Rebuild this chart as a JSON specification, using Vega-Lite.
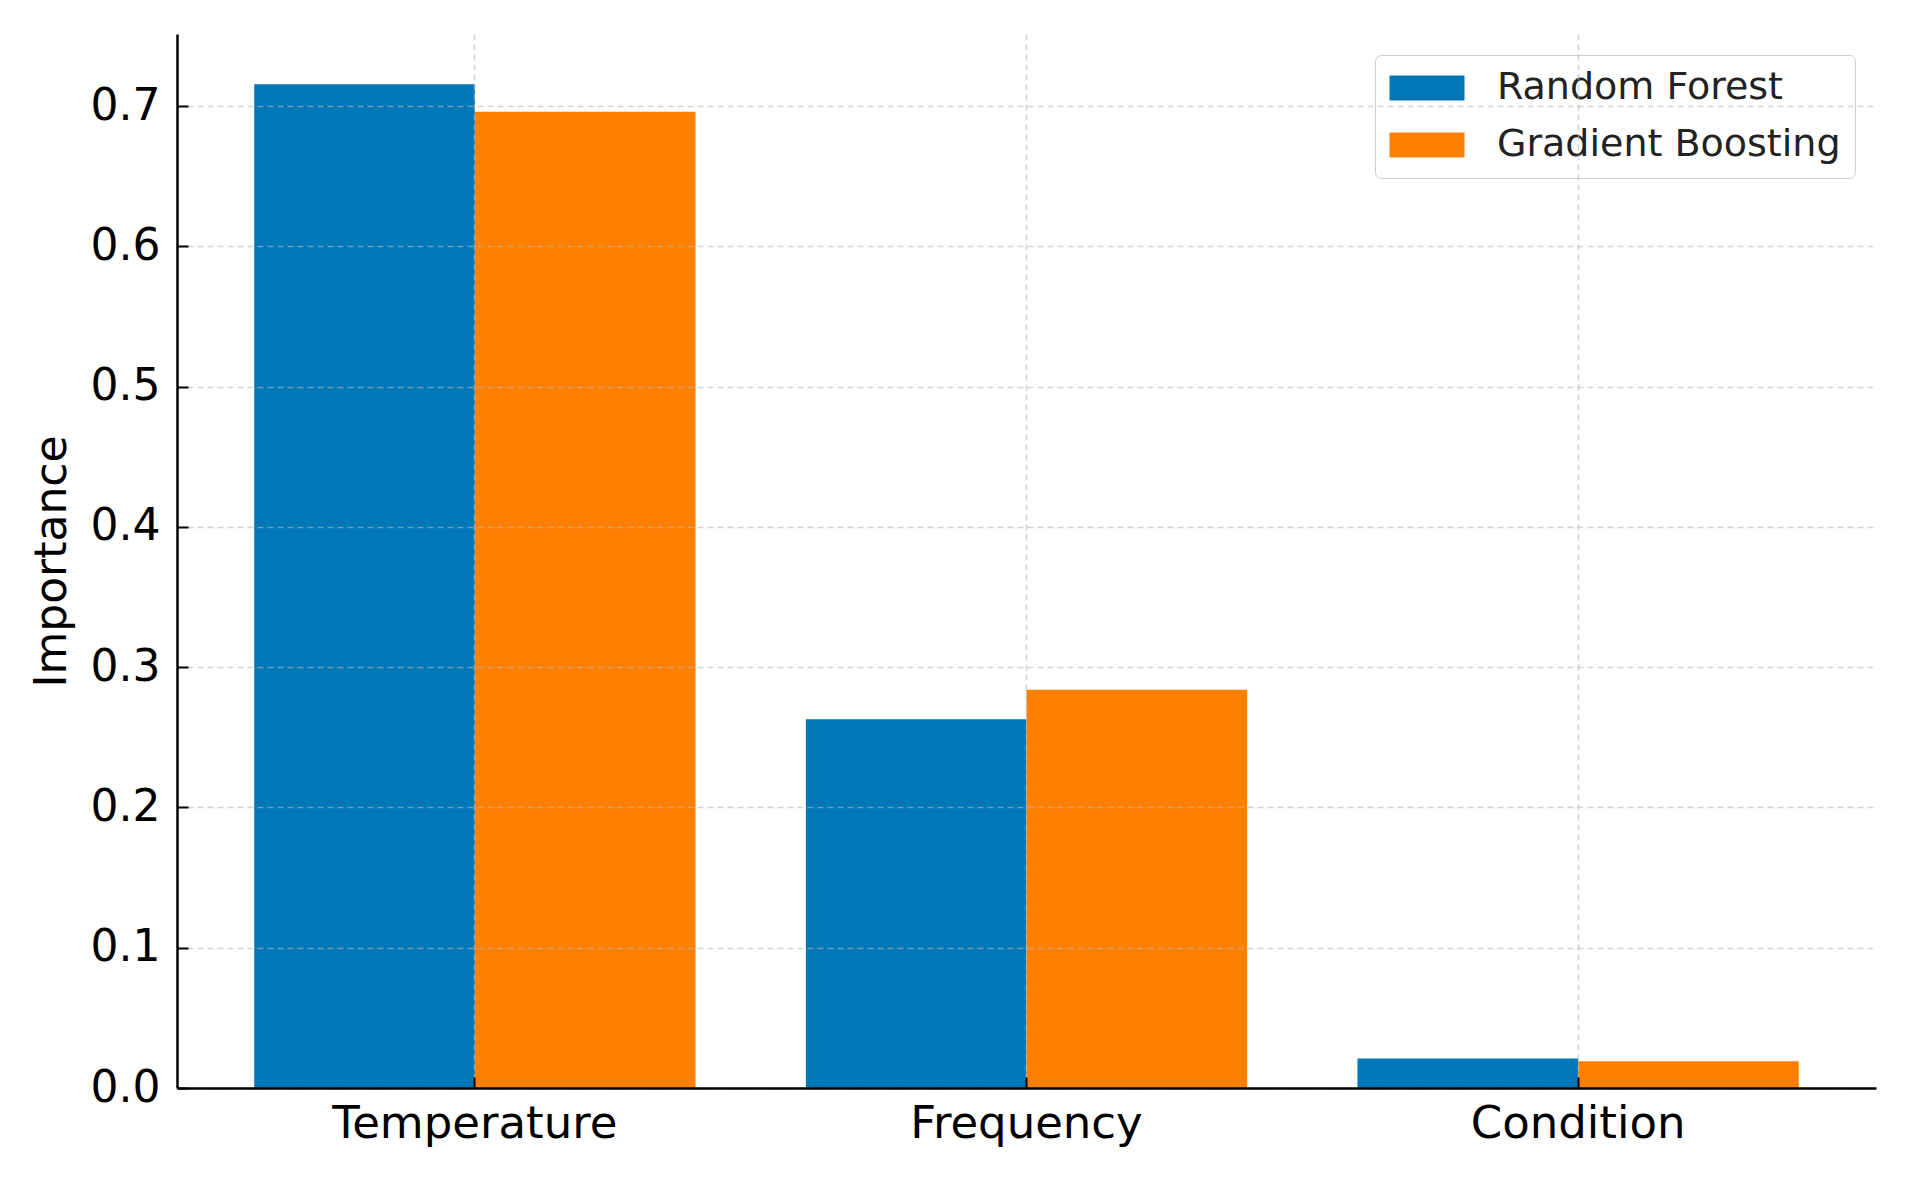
{
  "$schema": "https://vega.github.io/schema/vega-lite/v6.json",
  "width": 1699,
  "height": 1054,
  "autosize": {"type": "none"},
  "padding": {"left": 177, "top": 34, "right": 40, "bottom": 104},
  "background": "white",
  "data": {
    "values": [
      {"feature": "Temperature", "model": "Random Forest", "importance": 0.7157},
      {"feature": "Temperature", "model": "Gradient Boosting", "importance": 0.696},
      {"feature": "Frequency", "model": "Random Forest", "importance": 0.263},
      {"feature": "Frequency", "model": "Gradient Boosting", "importance": 0.284},
      {"feature": "Condition", "model": "Random Forest", "importance": 0.021},
      {"feature": "Condition", "model": "Gradient Boosting", "importance": 0.019}
    ]
  },
  "mark": {"type": "bar"},
  "encoding": {
    "x": {
      "field": "feature",
      "type": "nominal",
      "sort": ["Temperature", "Frequency", "Condition"],
      "scale": {"paddingInner": 0.2, "paddingOuter": 0.14},
      "axis": {
        "title": null,
        "labelAngle": 0,
        "labelFont": "DejaVu Sans",
        "labelFontSize": 45,
        "labelColor": "#000000",
        "labelLimit": 1000,
        "labelPadding": 24,
        "domainColor": "#000000",
        "domainWidth": 2.5,
        "tickColor": "#000000",
        "tickSize": -11,
        "tickWidth": 2,
        "bandPosition": 0.5,
        "grid": true,
        "gridColor": "#b8b8b8",
        "gridOpacity": 0.6,
        "gridDash": [6, 4],
        "gridWidth": 1.6,
        "zindex": 1
      }
    },
    "xOffset": {
      "field": "model",
      "type": "nominal",
      "sort": ["Random Forest", "Gradient Boosting"],
      "scale": {"paddingInner": 0, "paddingOuter": 0}
    },
    "y": {
      "field": "importance",
      "type": "quantitative",
      "scale": {"domain": [0, 0.7515], "nice": false, "zero": true},
      "axis": {
        "title": "Importance",
        "titleFont": "DejaVu Sans",
        "titleFontSize": 44,
        "titleFontWeight": "normal",
        "titleColor": "#000000",
        "titlePadding": 16,
        "values": [0, 0.1, 0.2, 0.3, 0.4, 0.5, 0.6, 0.7],
        "format": ".1f",
        "labelFont": "DejaVu Sans",
        "labelFontSize": 44,
        "labelColor": "#000000",
        "labelPadding": 28,
        "domainColor": "#000000",
        "domainWidth": 2.5,
        "tickColor": "#000000",
        "tickSize": -11,
        "tickWidth": 2,
        "grid": true,
        "gridColor": "#b8b8b8",
        "gridOpacity": 0.6,
        "gridDash": [6, 4],
        "gridWidth": 1.6,
        "zindex": 1
      }
    },
    "color": {
      "field": "model",
      "type": "nominal",
      "sort": ["Random Forest", "Gradient Boosting"],
      "scale": {"domain": ["Random Forest", "Gradient Boosting"], "range": ["#0077b6", "#ff7f00"]},
      "legend": {
        "title": null,
        "orient": "none",
        "legendX": 1198,
        "legendY": 21,
        "padding": 14,
        "strokeColor": "#cccccc",
        "fillColor": "rgba(255,255,255,0.8)",
        "cornerRadius": 6,
        "symbolType": "M-3,-1H3V1H-3Z",
        "symbolSize": 625,
        "symbolOffset": 19,
        "symbolStrokeWidth": 0,
        "labelFont": "DejaVu Sans",
        "labelFontSize": 38,
        "labelColor": "#222222",
        "labelOffset": 51,
        "rowPadding": 19,
        "labelLimit": 600
      }
    }
  },
  "config": {
    "view": {"stroke": null}
  }
}
